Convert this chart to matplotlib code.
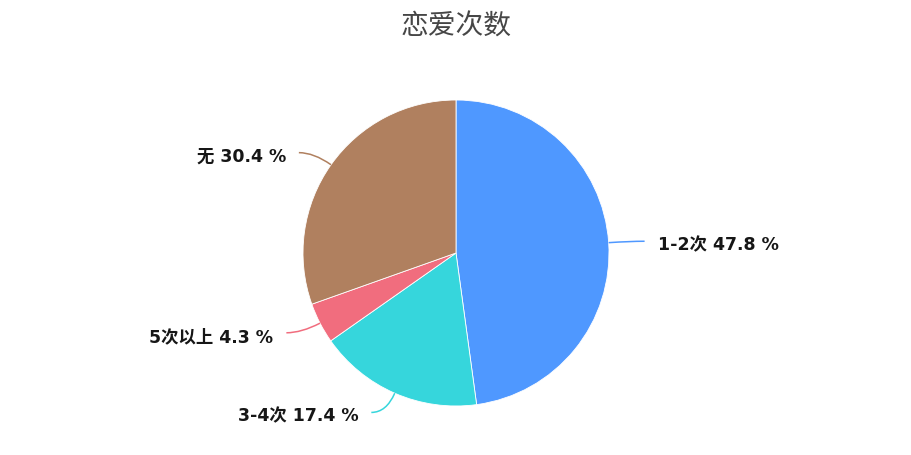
import numpy as np
import matplotlib
matplotlib.use('Agg')
import matplotlib.pyplot as plt
from matplotlib.path import Path
from matplotlib.patches import PathPatch

plt.rcParams['font.family'] = ['Noto Sans CJK SC', 'DejaVu Sans']

# 数据
labels = ['1-2次', '3-4次', '5次以上', '无']
values = [47.8, 17.4, 4.3, 30.4]
colors = ['#4f98ff', '#36d6dc', '#f16d7e', '#b0805f']
title = '恋爱次数'

W, H = 912, 456
fig = plt.figure(figsize=(W / 100, H / 100), dpi=100)
ax = fig.add_axes([0, 0, 1, 1])

cx, cy, r = 456, H - 254, 153
wedges, _ = ax.pie(values, colors=colors, startangle=90, counterclock=False,
                   center=(cx, cy), radius=r, frame=True,
                   wedgeprops=dict(edgecolor='white', linewidth=0.6))
ax.set_xlim(0, W)
ax.set_ylim(0, H)
ax.set_aspect('equal')
ax.axis('off')

# 引导线 + 标签
for w, lab, v, c in zip(wedges, labels, values, colors):
    ang = np.deg2rad((w.theta1 + w.theta2) / 2)
    dx, dy = np.cos(ang), np.sin(ang)
    p0 = (cx + r * dx, cy + r * dy)
    p1 = (cx + (r + 21) * dx, cy + (r + 21) * dy)
    side = 1 if dx >= 0 else -1
    p2 = (p1[0] + side * 15, p1[1])
    path = Path([p0, p1, p2], [Path.MOVETO, Path.CURVE3, Path.CURVE3])
    ax.add_patch(PathPatch(path, fill=False, edgecolor=c, linewidth=1.1))
    ax.text(p2[0] + side * 13, p2[1] - 3, f'{lab} {v} %',
            ha='left' if side > 0 else 'right', va='center',
            fontsize=12.5, fontweight='bold', color='#161616',
            family=['DejaVu Sans', 'Noto Sans CJK SC'])

fig.text(0.5, 1 - 27 / H, title, ha='center', va='center',
         fontsize=20, color='#464646')

fig.savefig('out.png', dpi=100)
